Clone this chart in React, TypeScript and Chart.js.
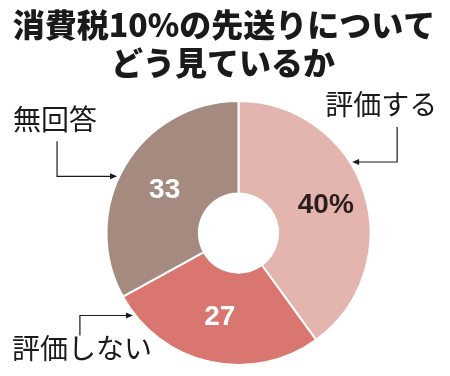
import React, { useEffect, useRef } from "react";
import { Chart, registerables } from "chart.js";

Chart.register(...registerables);

const titleLines = ["消費税10%の先送りについて", "どう見ているか"];
const categories = ["評価する", "評価しない", "無回答"];
const values = [40, 27, 33];
const valueLabels = ["40%", "27", "33"];
const colors = ["#e4b5ae", "#d8766f", "#a58a80"];
const valueColors = ["#2b1d1d", "#ffffff", "#ffffff"];

// annotation geometry for each category label: angle on outer edge (deg clockwise from top)
const calloutAngles = [58, 232, 295];

const overlayPlugin = {
  id: "overlay",
  afterDraw(chart: any) {
    const ctx = chart.ctx;
    const meta = chart.getDatasetMeta(0);
    const arcs = meta.data;
    if (!arcs.length) return;
    const cx = arcs[0].x;
    const cy = arcs[0].y;
    const R = arcs[0].outerRadius;
    const r = arcs[0].innerRadius;

    ctx.save();
    // title
    ctx.fillStyle = "#1a1a1a";
    ctx.textAlign = "center";
    ctx.textBaseline = "middle";
    ctx.font = "900 32px 'Noto Sans CJK JP'";
    ctx.fillText(titleLines[0], 224, 25);
    ctx.fillText(titleLines[1], 223, 63);

    // value labels
    ctx.font = "bold 28px 'Liberation Sans'";
    arcs.forEach((arc: any, i: number) => {
      const mid = (arc.startAngle + arc.endAngle) / 2;
      const rad = i === 0 ? (r + R) / 2 + 6 : (r + R) / 2;
      const x = cx + Math.cos(mid) * rad;
      const y = cy + Math.sin(mid) * rad;
      ctx.fillStyle = valueColors[i];
      ctx.fillText(valueLabels[i], x, y + 1);
    });

    // callouts
    ctx.strokeStyle = "#1a1a1a";
    ctx.fillStyle = "#1a1a1a";
    ctx.lineWidth = 1.2;
    const arrow = (tx: number, ty: number, dir: number) => {
      ctx.beginPath();
      ctx.moveTo(tx, ty);
      ctx.lineTo(tx - dir * 7, ty - 3);
      ctx.lineTo(tx - dir * 7, ty + 3);
      ctx.closePath();
      ctx.fill();
    };
    const tip = (deg: number) => {
      const a = (deg - 90) * Math.PI / 180;
      return [cx + Math.cos(a) * (R + 2), cy + Math.sin(a) * (R + 2)];
    };
    ctx.font = "400 28px 'Noto Sans CJK JP'";
    ctx.textBaseline = "middle";

    // 評価する
    {
      const [tx, ty] = tip(calloutAngles[0]);
      const vx = tx + 45;
      ctx.beginPath();
      ctx.moveTo(vx, ty - 35);
      ctx.lineTo(vx, ty);
      ctx.lineTo(tx + 4, ty);
      ctx.stroke();
      arrow(tx, ty, -1);
      ctx.textAlign = "center";
      ctx.fillText(categories[0], vx - 16, ty - 58);
    }
    // 評価しない
    {
      const [tx, ty] = tip(calloutAngles[1]);
      const vx = tx - 53;
      ctx.beginPath();
      ctx.moveTo(vx, ty + 20);
      ctx.lineTo(vx, ty);
      ctx.lineTo(tx - 4, ty);
      ctx.stroke();
      arrow(tx, ty, 1);
      ctx.textAlign = "left";
      ctx.fillText(categories[1], 12, ty + 33);
    }
    // 無回答
    {
      const [tx, ty] = tip(calloutAngles[2]);
      const vx = tx - 60;
      ctx.beginPath();
      ctx.moveTo(vx, ty - 35);
      ctx.lineTo(vx, ty);
      ctx.lineTo(tx - 4, ty);
      ctx.stroke();
      arrow(tx, ty, 1);
      ctx.textAlign = "left";
      ctx.fillText(categories[2], 13, ty - 57);
    }
    ctx.restore();
  },
};

export default function App() {
  const ref = useRef<HTMLCanvasElement | null>(null);
  useEffect(() => {
    if (!ref.current) return;
    const chart = new Chart(ref.current, {
      type: "doughnut",
      data: {
        labels: categories,
        datasets: [
          {
            data: values,
            backgroundColor: colors,
            borderColor: "#ffffff",
            borderWidth: 2,
            hoverOffset: 0,
          },
        ],
      },
      options: {
        animation: false,
        responsive: false,
        cutout: "30%",
        rotation: 0,
        layout: { padding: { left: 105, right: 78, top: 100, bottom: 10 } },
        plugins: {
          legend: { display: false },
          title: { display: false },
          tooltip: { enabled: false },
        },
      },
      plugins: [overlayPlugin],
    });
    return () => chart.destroy();
  }, []);
  return (
    <div style={{ position: "fixed", left: 0, top: 0, width: 450, height: 376, background: "#fff" }}>
      <canvas ref={ref} width={450} height={376} style={{ width: 450, height: 376 }} />
    </div>
  );
}
